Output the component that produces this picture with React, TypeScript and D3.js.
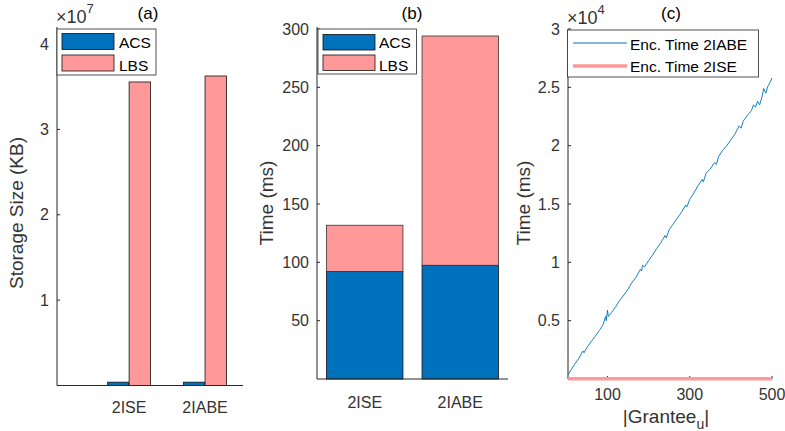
import React from "react";
import * as d3 from "d3";

// ---- data ----
const categories = ["2ISE", "2IABE"];
// (a) storage size in KB
const storageACS = [3.9e5, 3.9e5];
const storageLBS = [3.556e7, 3.626e7];
// (b) time in ms (stacked)
const timeACS = [92.2, 97.5];
const timeLBS = [39.6, 196.5];
// (c) encryption time vs |Grantee_u|
const granteeN = [4, 10, 20, 30, 40, 43, 50, 60, 70, 80, 90, 95, 97, 100, 102, 110, 120, 130, 140, 150, 160, 170, 180, 183, 185, 190, 200, 210, 220, 230, 240, 243, 250, 260, 270, 280, 290, 293, 300, 310, 320, 330, 333, 340, 350, 360, 365, 370, 380, 390, 400, 410, 420, 425, 430, 440, 450, 455, 460, 465, 470, 475, 480, 485, 490, 495, 500];
const encTime2IABE = [350, 700, 1250, 1750, 2400, 2250, 2700, 3200, 3650, 4150, 4700, 5350, 5000, 5900, 5350, 5700, 6200, 6750, 7200, 7700, 8300, 8750, 9400, 9250, 9750, 9600, 10150, 10650, 11200, 11700, 12300, 12100, 12800, 13300, 13800, 14300, 14900, 14750, 15400, 15950, 16550, 17100, 16900, 17650, 18000, 18550, 18400, 19050, 19600, 20000, 20500, 21000, 21700, 21500, 22100, 22600, 23000, 23500, 23300, 23800, 23500, 24100, 24900, 24500, 25100, 25400, 25800];
const granteeN2ISE = [4, 100, 200, 300, 400, 500];
const encTime2ISE = [12, 13, 12, 14, 13, 13];

const storageTicks = [1e7, 2e7, 3e7, 4e7];
const storageTickLabels = ["1", "2", "3", "4"];
const timeTicks = [50, 100, 150, 200, 250, 300];
const encTicks = [5000, 10000, 15000, 20000, 25000, 30000];
const encTickLabels = ["0.5", "1", "1.5", "2", "2.5", "3"];
const granteeTicks = [100, 300, 500];

const FONT = "'Liberation Sans', Arial, Helvetica, sans-serif";
const INK = "#262626";
const TXT = "#333";
const BLUE = "#0072BD";
const PINK = "#FF9999";

const TICK_FS = 16;
const LABEL_FS = 19;

function YAxis({ x, scale, ticks, labels, top }: any) {
  const bottom = scale.range()[0];
  return (
    <g>
      <line x1={x} x2={x} y1={top} y2={bottom} stroke={INK} strokeWidth={1} />
      {ticks.map((t: number, i: number) => (
        <g key={i}>
          <line x1={x} x2={x + 3} y1={scale(t)} y2={scale(t)} stroke={INK} strokeWidth={1} />
          <text x={x - 8} y={scale(t)} dy="0.35em" textAnchor="end" fontSize={TICK_FS} fill={TXT}>
            {labels ? labels[i] : t}
          </text>
        </g>
      ))}
    </g>
  );
}

function XAxis({ y, x1, x2 }: any) {
  return <line x1={x1} x2={x2} y1={y} y2={y} stroke={INK} strokeWidth={1} />;
}

function Legend({ x, y, w, h, items }: any) {
  return (
    <g>
      <rect x={x} y={y} width={w} height={h} fill="#fff" stroke={INK} strokeWidth={0.8} />
      {items.map((it: any, i: number) => (
        <g key={i}>{it}</g>
      ))}
    </g>
  );
}

export default function App() {
  // ---- panel (a) ----
  const xA = d3.scaleLinear().domain([0.05, 2.5]).range([57, 243]);
  const yA = d3.scaleLinear().domain([0, 4.2e7]).range([385.5, 27]);
  const bwA = 0.283;

  // ---- panel (b) ----
  const xB = d3.scaleLinear().domain([0.5, 2.5]).range([317, 508]);
  const yB = d3.scaleLinear().domain([0, 300]).range([379, 29]);
  const bwB = 0.8;

  // ---- panel (c) ----
  const xC = d3.scaleLinear().domain([4, 500]).range([568, 772]);
  const yC = d3.scaleLinear().domain([0, 30000]).range([379, 29]);
  const lineC = d3
    .line<number>()
    .x((_, i) => xC(granteeN[i]))
    .y((d) => yC(d));
  const lineC2 = d3
    .line<number>()
    .x((_, i) => xC(granteeN2ISE[i]))
    .y((d) => yC(d));

  return (
    <svg
      width={785}
      height={431}
      style={{ position: "absolute", left: 0, top: 0, background: "#fff" }}
      fontFamily={FONT}
    >
      {/* ===== (a) ===== */}
      {categories.map((c, i) => {
        const cx = xA(i + 1);
        const w = xA(bwA) - xA(0);
        return (
          <g key={c}>
            <rect x={cx - w} y={yA(storageACS[i])} width={w} height={yA(0) - yA(storageACS[i])} fill={BLUE} stroke="#111" strokeWidth={0.8} />
            <rect x={cx} y={yA(storageLBS[i])} width={w} height={yA(0) - yA(storageLBS[i])} fill={PINK} stroke="#111" strokeWidth={0.8} />
            <text x={cx} y={413} textAnchor="middle" fontSize={TICK_FS} fill={TXT}>{c}</text>
          </g>
        );
      })}
      <YAxis x={57} scale={yA} ticks={storageTicks} labels={storageTickLabels} top={27} />
      <XAxis y={385.5} x1={57} x2={243} />
      <text x={56} y={23} fontSize={18} fill={TXT}>
        ×10<tspan dy={-10} fontSize={13}>7</tspan>
      </text>
      <text x={148} y={19} textAnchor="middle" fontSize={17} fill="#000">(a)</text>
      <text transform="translate(16,213) rotate(-90)" textAnchor="middle" dy="0.35em" fontSize={LABEL_FS} fill={TXT}>
        Storage Size (KB)
      </text>
      <Legend
        x={57}
        y={29}
        w={99}
        h={46}
        items={[
          <rect key="a" x={62} y={33.5} width={52} height={16} fill={BLUE} stroke="#111" strokeWidth={0.8} />,
          <rect key="b" x={62} y={55} width={52} height={16} fill={PINK} stroke="#111" strokeWidth={0.8} />,
          <text key="c" x={119} y={48} fontSize={15.5} fill="#000">ACS</text>,
          <text key="d" x={119} y={70.5} fontSize={15.5} fill="#000">LBS</text>,
        ]}
      />

      {/* ===== (b) ===== */}
      {categories.map((c, i) => {
        const cx = xB(i + 1);
        const w = xB(bwB) - xB(0);
        const total = timeACS[i] + timeLBS[i];
        return (
          <g key={c}>
            <rect x={cx - w / 2} y={yB(timeACS[i])} width={w} height={yB(0) - yB(timeACS[i])} fill={BLUE} stroke="#111" strokeWidth={0.8} />
            <rect x={cx - w / 2} y={yB(total)} width={w} height={yB(timeACS[i]) - yB(total)} fill={PINK} stroke="#333" strokeWidth={0.8} />
            <text x={cx} y={408} textAnchor="middle" fontSize={TICK_FS} fill={TXT}>{c}</text>
          </g>
        );
      })}
      <YAxis x={317} scale={yB} ticks={timeTicks} top={27} />
      <XAxis y={379} x1={317} x2={508} />
      <text x={412} y={19} textAnchor="middle" fontSize={17} fill="#000">(b)</text>
      <text transform="translate(266,203) rotate(-90)" textAnchor="middle" dy="0.35em" fontSize={LABEL_FS} fill={TXT}>
        Time (ms)
      </text>
      <Legend
        x={318}
        y={29}
        w={98.5}
        h={45}
        items={[
          <rect key="a" x={323} y={34.5} width={52} height={15.5} fill={BLUE} stroke="#111" strokeWidth={0.8} />,
          <rect key="b" x={323} y={55} width={52} height={15.5} fill={PINK} stroke="#111" strokeWidth={0.8} />,
          <text key="c" x={379} y={48} fontSize={15.5} fill="#000">ACS</text>,
          <text key="d" x={379} y={70.5} fontSize={15.5} fill="#000">LBS</text>,
        ]}
      />

      {/* ===== (c) ===== */}
      <YAxis x={568} scale={yC} ticks={encTicks} labels={encTickLabels} top={29} />
      <XAxis y={379} x1={568} x2={772} />
      {granteeTicks.map((t) => (
        <g key={t}>
          <line x1={xC(t)} x2={xC(t)} y1={379} y2={376} stroke={INK} strokeWidth={1} />
          <text x={xC(t)} y={400} textAnchor="middle" fontSize={TICK_FS} fill={TXT}>{t}</text>
        </g>
      ))}
      <path d={lineC(encTime2IABE) || ""} fill="none" stroke={BLUE} strokeWidth={0.9} />
      <path d={lineC2(encTime2ISE) || ""} fill="none" stroke={PINK} strokeWidth={3.5} />
      <text x={567} y={24} fontSize={18} fill={TXT}>
        ×10<tspan dy={-10} fontSize={13}>4</tspan>
      </text>
      <text x={671} y={19} textAnchor="middle" fontSize={17} fill="#000">(c)</text>
      <text transform="translate(523,203) rotate(-90)" textAnchor="middle" dy="0.35em" fontSize={LABEL_FS} fill={TXT}>
        Time (ms)
      </text>
      <text x={666} y={423} textAnchor="middle" fontSize={LABEL_FS} fill={TXT}>
        |Grantee<tspan dy={6} fontSize={14}>u</tspan>
        <tspan dy={-6}>|</tspan>
      </text>
      <Legend
        x={567.5}
        y={30}
        w={191}
        h={47}
        items={[
          <line key="a" x1={573} x2={627} y1={43} y2={43} stroke={BLUE} strokeWidth={1} />,
          <line key="b" x1={573} x2={627} y1={66} y2={66} stroke={PINK} strokeWidth={3.5} />,
          <text key="c" x={630} y={49.5} fontSize={15.5} fill="#000">Enc. Time 2IABE</text>,
          <text key="d" x={630} y={71.5} fontSize={15.5} fill="#000">Enc. Time 2ISE</text>,
        ]}
      />
    </svg>
  );
}
